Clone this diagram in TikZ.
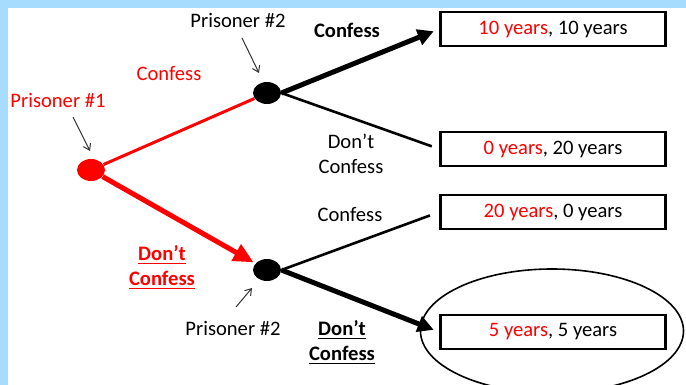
\documentclass[tikz,border=0pt]{standalone}
\usepackage{fontspec}
\setmainfont{Carlito}
\usetikzlibrary{shapes,positioning,arrows.meta}

\definecolor{frameblue}{RGB}{166,220,253}
\definecolor{pred}{RGB}{255,0,0}

\begin{document}
\begin{tikzpicture}[x=0.5pt,y=-0.5pt,font=\fontsize{10.3}{12.5}\selectfont]

% Background frame
\fill[frameblue] (0,0) rectangle (686,385);
\fill[white] (8,8) rectangle (686,385);
\useasboundingbox (0,0) rectangle (686,385);

\tikzset{
    dot/.style={ellipse, fill, inner sep=0,
        minimum width=14pt, minimum height=11pt},
    payoff/.style={draw, rectangle, line width=1.2pt,
        minimum width=112.5pt, minimum height=17pt, inner sep=0},
    note/.style={-{Straight Barb[length=3pt,width=4pt]}, line width=0.5pt, black!80},
    thin/.style={line width=1.3pt},
    bold/.style={line width=2.5pt, -{Triangle[length=8pt,width=8pt]}},
}

% Decision nodes
\node[dot, pred] (p1) at (91,170) {};
\node[dot] (p2a) at (267,93) {};
\node[dot] (p2b) at (267,270) {};

% Payoff boxes
\node[payoff] (box1) at (553,29) {\textcolor{pred}{10 years}, 10 years};
\node[payoff] (box2) at (553,149) {\textcolor{pred}{0 years}, 20 years};
\node[payoff] (box3) at (553,212) {\textcolor{pred}{20 years}, 0 years};
\node[payoff] (box4) at (553,332) {\textcolor{pred}{5 years}, 5 years};

% Equilibrium ring
\node[draw, ellipse, line width=0.8pt, inner sep=0,
    minimum width=131.5pt,
    minimum height=62pt] (ring) at (552,331) {};

% Player labels
\node[text=pred] (lblp1) at (58,100) {Prisoner \#1};
\node (lblp2a) at (238,20) {Prisoner \#2};
\node (lblp2b) at (233,328) {Prisoner \#2};

% Move labels
\node[text=pred] (c1) at (169,74) {Confess};
\node[text=pred, font=\fontsize{10.3}{12.5}\selectfont\bfseries, align=center] (d1) at (162,268)
    {\underline{Don’t}\\\underline{Confess}};
\node[font=\fontsize{10.3}{12.5}\selectfont\bfseries] (c2a) at (347,30) {Confess};
\node[align=center] (d2a) at (351,154) {Don’t\\Confess};
\node (c2b) at (350,215) {Confess};
\node[font=\fontsize{10.3}{12.5}\selectfont\bfseries, align=center] (d2b) at (342,343)
    {\underline{Don’t}\\\underline{Confess}};

% Branches
\draw[pred, line width=1.5pt] (p1) -- (p2a);
\draw[pred, bold, -{Triangle[length=10pt,width=9pt]}, shorten >=1pt] (p1) -- (p2b);

\draw[bold, shorten >=3pt] (p2a.east) -- (box1.west);
\draw[thin, shorten >=4pt] (p2a.east) -- (box2.west);
\draw[thin, shorten >=5pt] (p2b.east) -- (box3.west);
\draw[bold, shorten >=3pt] (p2b.east) -- (box4.west);

% Pointers
\draw[note] ([shift={(15,17)}]lblp1.center) -- ([shift={(-1,-19)}]p1.center);
\draw[note] ([shift={(4,18)}]lblp2a.center) -- ([shift={(-8,-20)}]p2a.center);
\draw[note] ([shift={(3,-21)}]lblp2b.center) -- ([shift={(-15,18)}]p2b.center);

\end{tikzpicture}
\end{document}
